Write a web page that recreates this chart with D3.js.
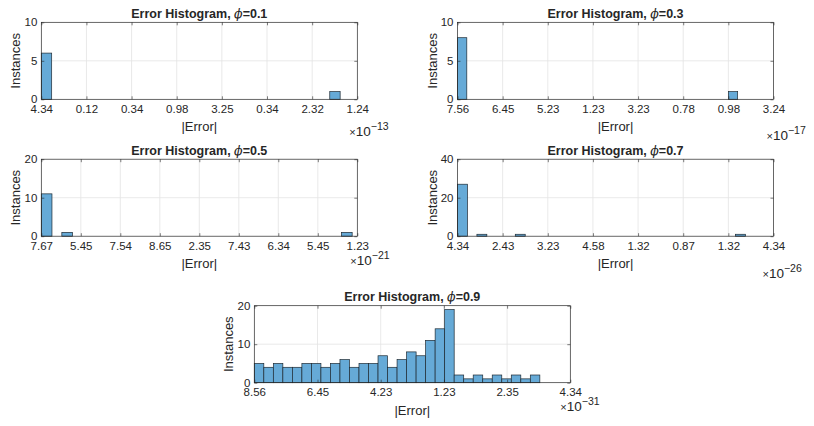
<!DOCTYPE html>
<html>
<head>
<meta charset="utf-8">
<script src="https://cdn.jsdelivr.net/npm/d3@7"></script>
<style>
  body { margin: 0; background: #fff; }
  svg { display: block; }
  text { font-family: "Liberation Sans", Arial, sans-serif; fill: #262626; }
</style>
</head>
<body>
<script>
// tick labels, bar left edges (in tick-index units) and bar counts per panel
const phis = ["0.1", "0.3", "0.5", "0.7", "0.9"];
const exps = ["13", "17", "21", "26", "31"];

const ticks1 = ["4.34", "0.12", "0.34", "0.98", "3.25", "0.34", "2.32", "1.24"];
const starts1 = [0, 6.39];
const counts1 = [6, 1];

const ticks2 = ["7.56", "6.45", "5.23", "1.23", "3.23", "0.78", "0.98", "3.24"];
const starts2 = [0, 6.0];
const counts2 = [8, 1];

const ticks3 = ["7.67", "5.45", "7.54", "8.65", "2.35", "7.43", "6.34", "5.45", "1.23"];
const starts3 = [0, 0.52, 7.6];
const counts3 = [11, 1, 1];

const ticks4 = ["4.34", "2.43", "3.23", "4.58", "1.32", "0.87", "1.32", "4.34"];
const starts4 = [0, 0.43, 1.28, 6.16];
const counts4 = [27, 1, 1, 1];

const ticks5 = ["8.56", "6.45", "4.23", "1.23", "2.35", "4.34"];
const counts5 = [5, 4, 5, 4, 4, 5, 5, 4, 5, 6, 4, 5, 5, 7, 4, 6, 8, 7, 11, 14, 19, 2, 1, 2, 1, 2, 1, 2, 1, 2];

const yMaxes = [10, 10, 20, 40, 20];

const W = 814, H = 426;
const svg = d3.select("body").append("svg").attr("width", W).attr("height", H);

const pw = 316, ph = 77;
const panels = [
  { left: 41.3, top: 22.3, ticks: ticks1, starts: starts1, counts: counts1, binW: 0.23, expDx: -8, expDy: 37 },
  { left: 457.5, top: 22.3, ticks: ticks2, starts: starts2, counts: counts2, binW: 0.206, expDx: -7, expDy: 41 },
  { left: 41.3, top: 159.2, ticks: ticks3, starts: starts3, counts: counts3, binW: 0.27, expDx: -7, expDy: 29 },
  { left: 457.5, top: 159.2, ticks: ticks4, starts: starts4, counts: counts4, binW: 0.22, expDx: -11, expDy: 42 },
  { left: 254.3, top: 305.7, ticks: ticks5, starts: counts5.map((c, i) => i * 0.1506), counts: counts5, binW: 0.1506, expDx: -10, expDy: 28 }
];

panels.forEach((p, k) => {
  const g = svg.append("g").attr("transform", `translate(${p.left},${p.top})`);
  const n = p.ticks.length;
  const x = d3.scaleLinear().domain([0, n - 1]).range([0, pw]);
  const y = d3.scaleLinear().domain([0, yMaxes[k]]).range([ph, 0]);
  const yt = [0, yMaxes[k] / 2, yMaxes[k]];

  // grid
  g.append("g").selectAll("line").data(d3.range(1, n - 1)).enter().append("line")
    .attr("x1", d => x(d)).attr("x2", d => x(d)).attr("y1", 0).attr("y2", ph)
    .attr("stroke", "#e3e3e3").attr("stroke-width", 0.8);
  g.append("g").selectAll("line").data(yt.slice(1, 2)).enter().append("line")
    .attr("x1", 0).attr("x2", pw).attr("y1", d => y(d)).attr("y2", d => y(d))
    .attr("stroke", "#e3e3e3").attr("stroke-width", 0.8);

  // bars
  const bars = p.starts.map((s, i) => ({ s: s, c: p.counts[i] }));
  g.append("g").selectAll("rect").data(bars).enter().append("rect")
    .attr("x", d => x(d.s)).attr("y", d => y(d.c))
    .attr("width", d => x(d.s + p.binW) - x(d.s))
    .attr("height", d => y(0) - y(d.c))
    .attr("fill", "#66aad7").attr("stroke", "#1e2a33").attr("stroke-width", 0.7);

  // axes, ticks inward
  const xb = g.append("g").attr("transform", `translate(0,${ph})`)
    .call(d3.axisBottom(x).tickValues(d3.range(n)).tickFormat(i => p.ticks[i]).tickSizeInner(-3).tickSizeOuter(0).tickPadding(5.5));
  const xt = g.append("g")
    .call(d3.axisTop(x).tickValues(d3.range(n)).tickFormat("").tickSizeInner(-3).tickSizeOuter(0));
  const yl = g.append("g")
    .call(d3.axisLeft(y).tickValues(yt).tickFormat(d3.format("d")).tickSizeInner(-3).tickSizeOuter(0).tickPadding(4));
  const yr = g.append("g").attr("transform", `translate(${pw},0)`)
    .call(d3.axisRight(y).tickValues(yt).tickFormat("").tickSizeInner(-3).tickSizeOuter(0));
  [xb, xt, yl, yr].forEach(a => {
    a.select(".domain").remove();
    a.selectAll("line").attr("stroke", "#262626").attr("stroke-width", 0.6);
    a.selectAll("text").attr("font-size", 11.5).attr("fill", "#262626")
      .style("font-family", '"Liberation Sans", Arial, sans-serif');
  });

  g.append("rect").attr("width", pw).attr("height", ph)
    .attr("fill", "none").attr("stroke", "#262626").attr("stroke-width", 0.7);

  // title
  const t = g.append("text").attr("x", pw / 2).attr("y", -4.5).attr("text-anchor", "middle")
    .attr("font-size", 12.5).attr("font-weight", "bold");
  t.append("tspan").text("Error Histogram, ");
  t.append("tspan").attr("font-style", "italic").attr("font-weight", "normal")
    .style("font-family", '"DejaVu Serif", serif').text("ϕ");
  t.append("tspan").text("=" + phis[k]);

  // labels
  g.append("text").attr("x", pw / 2).attr("y", ph + 32).attr("text-anchor", "middle")
    .attr("font-size", 13).text("|Error|");
  g.append("text").attr("transform", `translate(-21,${ph / 2}) rotate(-90)`)
    .attr("text-anchor", "middle").attr("font-size", 13).text("Instances");

  // exponent
  const e = g.append("text").attr("x", pw + p.expDx).attr("y", ph + p.expDy).attr("font-size", 13.5);
  e.append("tspan").attr("font-size", 11).text("×");
  e.append("tspan").text("10");
  e.append("tspan").attr("font-size", 10.5).attr("dy", -6).text("−" + exps[k]);
});
</script>
</body>
</html>
